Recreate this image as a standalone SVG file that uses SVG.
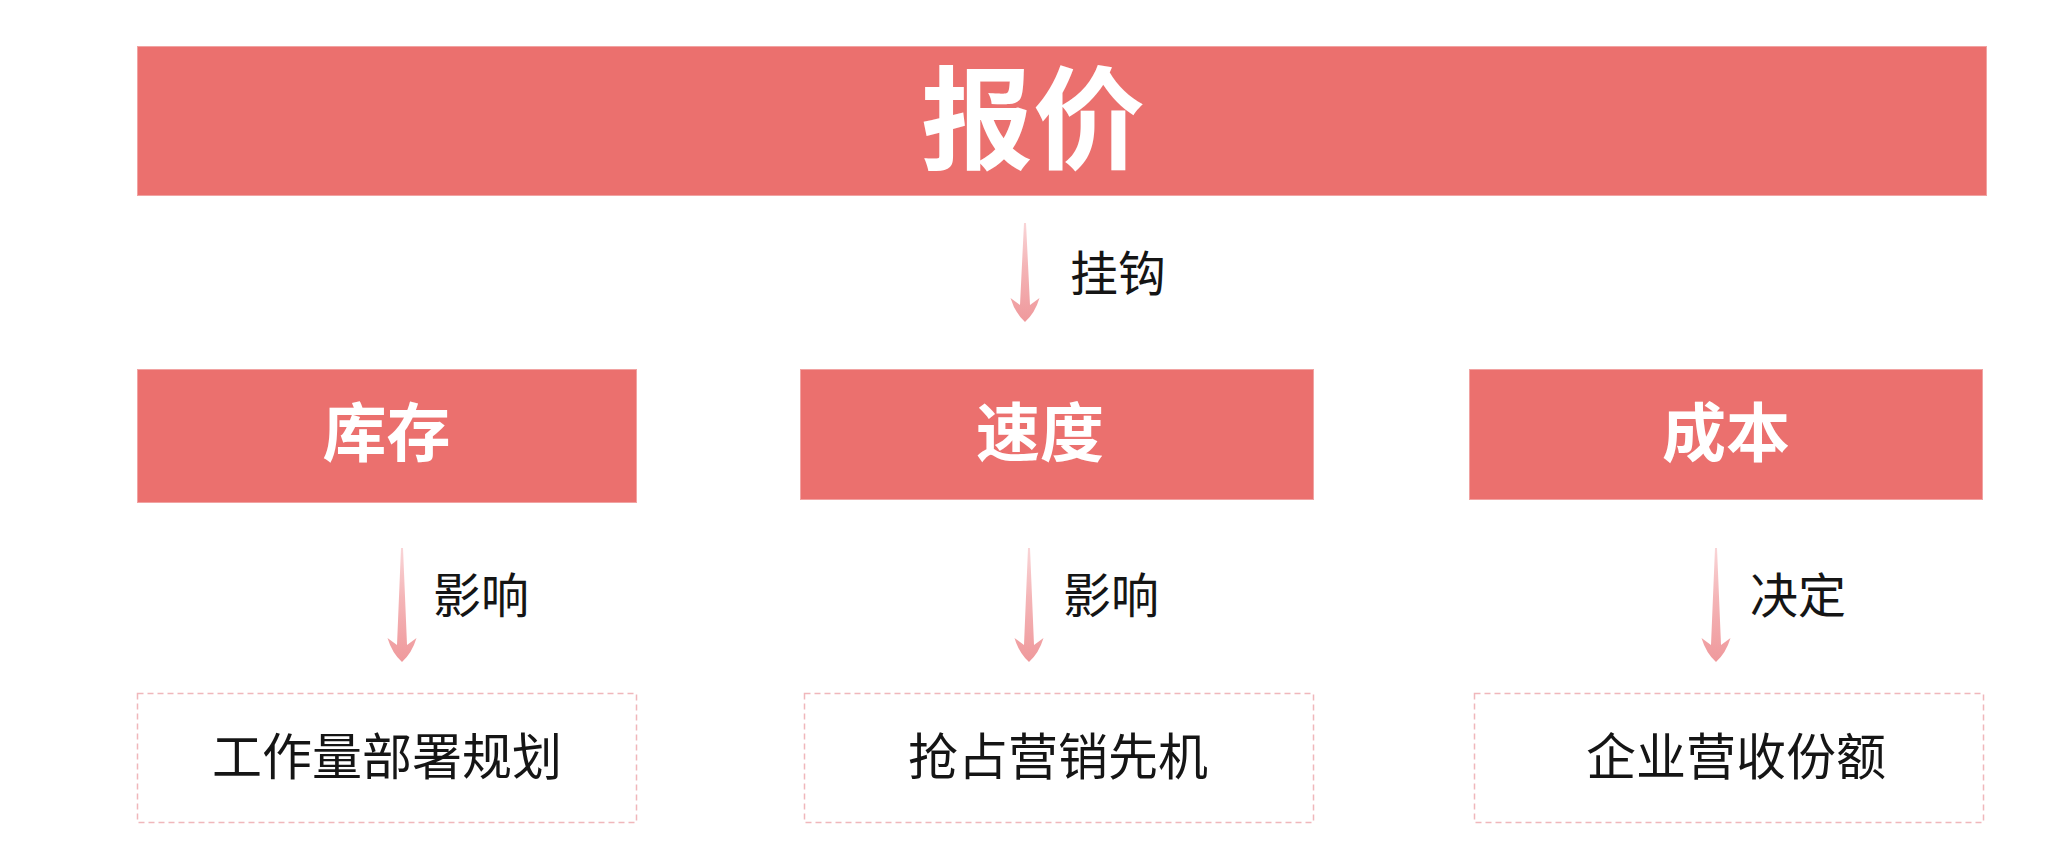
<svg xmlns="http://www.w3.org/2000/svg" width="2059" height="855" viewBox="0 0 2059 855">
  <defs>
    <linearGradient id="ag" x1="0" y1="0" x2="0" y2="1">
      <stop offset="0" stop-color="#F9D5D7"/>
      <stop offset="0.45" stop-color="#F4B4B6"/>
      <stop offset="1" stop-color="#EF999C"/>
    </linearGradient>
    <style>
      .solid { fill: #EB706E; stroke: #F1A3A2; stroke-width: 1; }
      .dash { fill: #FFFFFF; stroke: #F0B7BB; stroke-width: 1.5; stroke-dasharray: 6 4; }
      .ttl { font-family: "Noto Sans CJK SC", "Noto Sans", sans-serif; font-weight: 700; fill: #FFFFFF; text-anchor: middle; }
      .lbl { font-family: "Noto Sans CJK SC", "Noto Sans", sans-serif; font-weight: 400; fill: #151515; font-size: 48px; }
      .btm { font-family: "Noto Sans CJK SC", "Noto Sans", sans-serif; font-weight: 400; fill: #151515; font-size: 50px; text-anchor: middle; }
      .arr { fill: url(#ag); }
    </style>
  </defs>
  <rect width="2059" height="855" fill="#FFFFFF"/>

  <g id="node-baojia">
    <rect class="solid" x="137.5" y="46.5" width="1849" height="149"/>
    <text class="ttl" x="1033" y="161" font-size="112">报价</text>
  </g>

  <g id="node-kucun">
    <rect class="solid" x="137.5" y="369.5" width="499" height="133"/>
    <text class="ttl" x="386.5" y="456" font-size="64">库存</text>
  </g>
  <g id="node-sudu">
    <rect class="solid" x="800.5" y="369.5" width="513" height="130"/>
    <text class="ttl" x="1040" y="456" font-size="64">速度</text>
  </g>
  <g id="node-chengben">
    <rect class="solid" x="1469.5" y="369.5" width="513" height="130"/>
    <text class="ttl" x="1726" y="456" font-size="64">成本</text>
  </g>

  <g id="node-gongzuoliang">
    <rect class="dash" x="137.5" y="693.5" width="499" height="129"/>
    <text class="btm" x="387" y="775">工作量部署规划</text>
  </g>
  <g id="node-qiangzhan">
    <rect class="dash" x="804.5" y="693.5" width="509" height="129"/>
    <text class="btm" x="1058" y="775">抢占营销先机</text>
  </g>
  <g id="node-yingshou">
    <rect class="dash" x="1474.5" y="693.5" width="509" height="129"/>
    <text class="btm" x="1736" y="775">企业营收份额</text>
  </g>

  <g id="connectors">
    <path class="arr" d="M1024,223 L1026,223 L1030,305 L1039.5,298 Q1035,313 1025,322 Q1015,313 1010.5,298 L1020,305 Z"/>
    <text class="lbl" x="1070" y="291">挂钩</text>

    <path class="arr" d="M401,548 L403,548 L407,645 L416.5,638 Q412,653 402,662 Q392,653 387.5,638 L397,645 Z"/>
    <text class="lbl" x="433" y="613">影响</text>

    <path class="arr" d="M1028,548 L1030,548 L1034,645 L1043.5,638 Q1039,653 1029,662 Q1019,653 1014.5,638 L1024,645 Z"/>
    <text class="lbl" x="1063" y="613">影响</text>

    <path class="arr" d="M1715,548 L1717,548 L1721,645 L1730.5,638 Q1726,653 1716,662 Q1706,653 1701.5,638 L1711,645 Z"/>
    <text class="lbl" x="1750" y="613">决定</text>
  </g>
</svg>
